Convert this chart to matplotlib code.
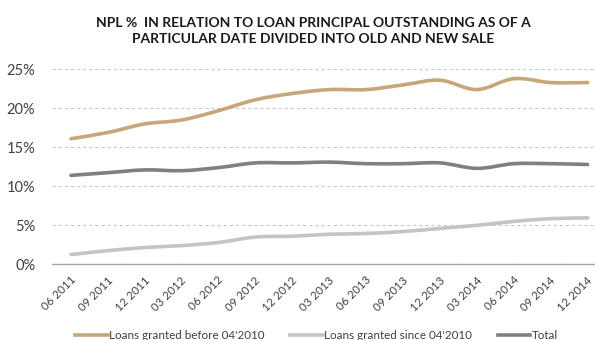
import matplotlib
matplotlib.use("Agg")
import matplotlib.pyplot as plt
from matplotlib.path import Path
from matplotlib.patches import PathPatch
from matplotlib.lines import Line2D
from matplotlib.ticker import FuncFormatter, MultipleLocator
import matplotlib.transforms as mtransforms
import numpy as np

plt.rcParams['font.family'] = ['Lato', 'DejaVu Sans']

categories = ["06 2011", "09 2011", "12 2011", "03 2012", "06 2012", "09 2012", "12 2012",
              "03 2013", "06 2013", "09 2013", "12 2013", "03 2014", "06 2014", "09 2014", "12 2014"]
loans_before = [16.1, 16.9, 18.0, 18.5, 19.7, 21.1, 21.9, 22.4, 22.4, 23.0, 23.6, 22.4, 23.8, 23.3, 23.3]
loans_since = [1.25, 1.75, 2.15, 2.4, 2.8, 3.5, 3.6, 3.85, 3.95, 4.2, 4.6, 5.0, 5.5, 5.85, 5.95]
total = [11.4, 11.75, 12.1, 12.0, 12.4, 13.0, 13.0, 13.1, 12.9, 12.9, 13.0, 12.3, 12.9, 12.9, 12.8]
series_names = ["Loans granted before 04'2010", "Loans granted since 04'2010", "Total"]
colors = ["#C8A679", "#C4C4C4", "#808080"]

fig = plt.figure(figsize=(5.95, 3.4), dpi=100)
ax = fig.add_axes([52/595, 1-264.3/340, 1-52/595, (264.3-69.3)/340])


def smooth_path(xs, ys):
    pts = np.column_stack([xs, ys]).astype(float)
    n = len(pts)
    verts = [pts[0]]
    codes = [Path.MOVETO]
    for i in range(n - 1):
        p0 = pts[i - 1] if i > 0 else pts[i]
        p1 = pts[i]
        p2 = pts[i + 1]
        p3 = pts[i + 2] if i + 2 < n else pts[i + 1]
        c1 = p1 + (p2 - p0) / 6.0
        c2 = p2 - (p3 - p1) / 6.0
        verts += [c1, c2, p2]
        codes += [Path.CURVE4] * 3
    return Path(verts, codes)


x = np.arange(len(categories))
for vals, col in zip([loans_before, loans_since, total], colors):
    patch = PathPatch(smooth_path(x, vals), facecolor='none', edgecolor=col, lw=2.6,
                      capstyle='round', joinstyle='round', zorder=3)
    ax.add_patch(patch)

ax.set_xlim(-0.515, 14.2)
ax.set_ylim(0, 25)
ax.yaxis.set_major_locator(MultipleLocator(5))
ax.yaxis.set_major_formatter(FuncFormatter(lambda v, p: f"{int(v)}%"))
ax.grid(axis='y', color='#C8C8C8', linestyle=(0, (3, 2.5)), lw=0.8)
ax.set_axisbelow(True)
for s in ['top', 'right', 'left']:
    ax.spines[s].set_visible(False)
ax.spines['bottom'].set_color('#A6A6A6')
ax.spines['bottom'].set_linewidth(1.0)
ax.tick_params(axis='y', length=0, labelsize=10.5, labelcolor='#404040', pad=12)
ax.tick_params(axis='x', length=0, labelsize=8.3, labelcolor='#404040', pad=0)
ax.set_xticks(x)
ax.set_xticklabels(categories, rotation=45, ha='right', va='center', rotation_mode='anchor')
offset = mtransforms.ScaledTranslation(3/100, -14/100, fig.dpi_scale_trans)
for lab in ax.get_xticklabels():
    lab.set_transform(lab.get_transform() + offset)

fig.text(0.527, 0.909, "NPL %  IN RELATION TO LOAN PRINCIPAL OUTSTANDING AS OF A\nPARTICULAR DATE DIVIDED INTO OLD AND NEW SALE",
         ha='center', va='center', fontsize=10.0, fontweight='bold', color='#1A1A1A', linespacing=1.45)

handles = [Line2D([], [], color=c, lw=2.6) for c in colors]
fig.legend(handles, series_names, loc='center', bbox_to_anchor=(0.532, 0.013), ncol=3, frameon=False,
           fontsize=8.4, handlelength=2.8, handletextpad=0.1, columnspacing=2.2,
           labelcolor='#404040')

fig.savefig("out.png", dpi=100)
